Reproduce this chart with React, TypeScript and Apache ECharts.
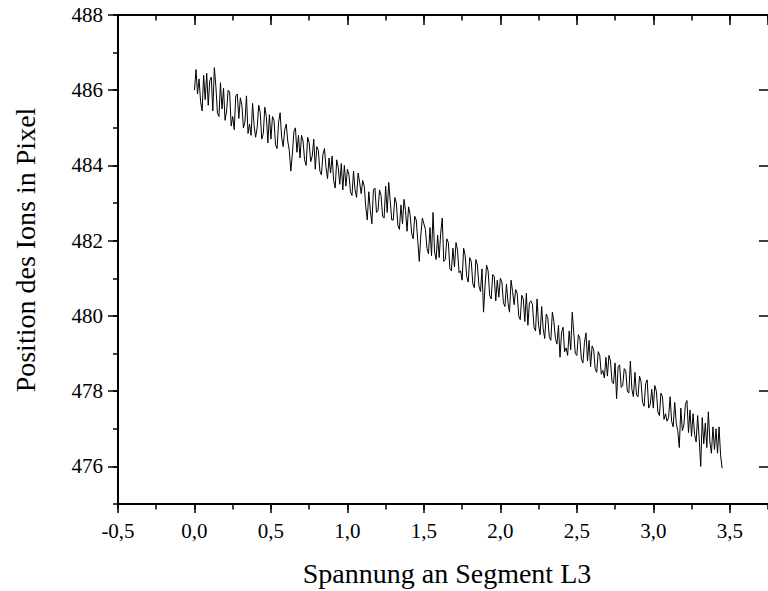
import React, { useEffect, useRef } from "react";
import * as echarts from "echarts";

// Spannung an Segment L3 sampled every 0.01 from 0,00 to 3,45
const voltageStep = 0.01;

// Position des Ions in Pixel
const ionPosition: number[] = [
  486.00, 486.55, 485.90, 486.30, 485.70, 485.45, 486.40, 485.75, 486.45, 485.60,
  486.25, 486.35, 485.45, 486.60, 486.10, 485.40, 485.30, 486.20, 485.50, 486.05,
  485.20, 485.45, 486.00, 485.95, 485.05, 485.30, 484.95, 485.85, 485.90, 485.25,
  485.80, 485.60, 485.00, 485.15, 485.85, 484.85, 485.10, 484.80, 485.65, 485.05,
  484.75, 485.00, 485.60, 485.40, 484.70, 484.85, 485.55, 485.30, 484.60, 485.35,
  484.70, 485.30, 485.20, 484.55, 484.45, 485.15, 485.40, 484.75, 484.50, 484.95,
  485.10, 484.65, 484.40, 483.85, 484.30, 484.90, 485.00, 484.35, 484.80, 484.20,
  484.80, 484.65, 484.15, 484.00, 484.75, 484.60, 484.10, 484.25, 484.70, 483.90,
  484.50, 484.40, 483.85, 483.75, 484.30, 484.45, 483.95, 483.65, 484.20, 483.80,
  484.25, 483.60, 483.40, 484.15, 483.95, 483.50, 484.05, 483.35, 484.00, 483.45,
  483.90, 483.75, 483.30, 483.20, 483.85, 483.35, 483.15, 483.80, 483.55, 483.25,
  483.60, 483.45, 482.90, 482.55, 483.30, 482.80, 482.45, 483.35, 483.40, 482.75,
  482.80, 483.35, 483.20, 482.65, 482.60, 483.45, 482.75, 483.55, 483.05, 482.55,
  482.55, 483.15, 483.00, 482.40, 482.30, 482.95, 482.45, 483.10, 482.80, 482.25,
  482.90, 482.70, 482.20, 482.05, 482.65, 482.55, 482.00, 481.45, 482.15, 482.60,
  482.45, 482.30, 481.80, 481.65, 482.35, 481.60, 482.75, 481.70, 481.50, 482.15,
  481.55, 482.20, 482.60, 481.45, 481.50, 482.05, 481.95, 481.25, 481.20, 481.80,
  481.30, 481.95, 481.75, 481.15, 481.20, 480.95, 481.80, 481.60, 481.05, 480.90,
  481.55, 481.45, 480.85, 480.75, 481.50, 481.35, 480.80, 480.65, 481.25, 480.10,
  480.80, 481.35, 481.20, 480.55, 480.45, 481.10, 481.05, 480.40, 480.95, 480.50,
  481.00, 480.90, 480.35, 480.25, 480.85, 480.35, 480.10, 480.95, 480.65, 480.30,
  480.70, 480.60, 480.00, 479.90, 480.55, 480.45, 479.85, 480.60, 479.75, 480.35,
  480.40, 480.30, 479.70, 479.60, 480.45, 479.75, 479.50, 480.25, 479.65, 479.40,
  480.05, 479.95, 479.45, 479.35, 480.10, 479.85, 479.40, 479.25, 479.75, 478.90,
  479.55, 479.70, 479.05, 479.15, 478.95, 479.60, 479.10, 480.10, 479.55, 479.00,
  478.95, 479.50, 479.40, 478.85, 478.75, 479.30, 479.55, 478.80, 479.35, 478.65,
  479.20, 479.10, 478.60, 478.50, 479.05, 478.95, 478.45, 478.55, 478.35, 478.90,
  478.40, 478.95, 478.80, 478.25, 478.20, 478.75, 477.80, 478.65, 478.70, 478.10,
  478.15, 478.60, 478.55, 478.00, 477.95, 478.80, 478.05, 477.85, 478.50, 477.90,
  477.85, 478.40, 478.25, 477.70, 477.60, 478.20, 478.30, 477.55, 477.65, 478.05,
  477.55, 478.15, 478.00, 477.45, 477.35, 477.95, 477.85, 477.25, 477.40, 477.20,
  477.30, 477.85, 477.20, 477.05, 477.70, 477.15, 476.95, 476.50, 477.55, 476.95,
  477.10, 477.65, 477.75, 476.90, 477.50, 476.80, 477.40, 476.85, 476.65, 477.35,
  476.75, 476.00, 477.30, 476.60, 477.15, 476.50, 477.45, 476.65, 476.35, 477.05,
  476.45, 477.00, 476.35, 477.05, 476.30, 475.95,
];

const xTitle = "Spannung an Segment L3";
const yTitle = "Position des Ions in Pixel";

const X_MIN = -0.5;
const X_MAX = 3.75;
const Y_MIN = 475;
const Y_MAX = 488;
const Y_LABEL_MIN = 476;

const FONT = "Liberation Serif";

export default function App() {
  const ref = useRef<HTMLDivElement>(null);

  useEffect(() => {
    if (!ref.current) return;
    const chart = echarts.init(ref.current, null, { renderer: "svg" });

    const data = ionPosition.map((v, i) => [+(i * voltageStep).toFixed(2), v]);

    const left = 118;
    const top = 15;
    const plotH = 489;
    const pxPerY = plotH / (Y_MAX - Y_MIN);
    const pxPerX = 618.75 / 4;
    const plotW = (X_MAX - X_MIN) * pxPerX;
    const labelGridH = (Y_MAX - Y_LABEL_MIN) * pxPerY;

    const black = "#000";
    const line = { show: true, onZero: false, lineStyle: { color: black, width: 2 } };
    const noLine = { show: false, onZero: false };

    chart.setOption({
      animation: false,
      backgroundColor: "#fff",
      textStyle: { fontFamily: FONT },
      grid: [
        { left, top, width: plotW, height: plotH, containLabel: false },
        { left, top, width: plotW, height: labelGridH, containLabel: false },
      ],
      xAxis: [
        {
          type: "value", gridIndex: 0, position: "bottom",
          min: X_MIN, max: X_MAX, interval: 0.5,
          axisLine: line,
          axisTick: { show: true, inside: false, length: 9, lineStyle: { color: black, width: 1.5 } },
          axisLabel: {
            show: true, margin: 16, color: black, fontFamily: FONT, fontSize: 21,
            showMaxLabel: false,
            formatter: (v: number) => v.toFixed(1).replace(".", ","),
          },
          splitLine: { show: false },
        },
        {
          type: "value", gridIndex: 0, position: "bottom",
          min: X_MIN, max: X_MAX, interval: 0.25,
          axisLine: noLine,
          axisTick: { show: true, inside: false, length: 5.5, lineStyle: { color: black, width: 1.5 } },
          axisLabel: { show: false },
          splitLine: { show: false },
        },
        {
          type: "value", gridIndex: 0, position: "top",
          min: X_MIN, max: X_MAX, interval: 0.5,
          axisLine: line,
          axisTick: { show: true, inside: true, length: 10, lineStyle: { color: black, width: 1.5 } },
          axisLabel: { show: false },
          splitLine: { show: false },
        },
        {
          type: "value", gridIndex: 0, position: "top",
          min: X_MIN, max: X_MAX, interval: 0.25,
          axisLine: noLine,
          axisTick: { show: true, inside: true, length: 5.5, lineStyle: { color: black, width: 1.5 } },
          axisLabel: { show: false },
          splitLine: { show: false },
        },
        {
          type: "value", gridIndex: 1, position: "bottom", show: false,
          min: X_MIN, max: X_MAX,
        },
      ],
      yAxis: [
        {
          type: "value", gridIndex: 0, position: "left",
          min: Y_MIN, max: Y_MAX, interval: 1,
          axisLine: line,
          axisTick: { show: true, inside: false, length: 5, lineStyle: { color: black, width: 1.5 } },
          axisLabel: { show: false },
          splitLine: { show: false },
        },
        {
          type: "value", gridIndex: 1, position: "left",
          min: Y_LABEL_MIN, max: Y_MAX, interval: 2,
          axisLine: noLine,
          axisTick: { show: true, inside: false, length: 10, lineStyle: { color: black, width: 1.5 } },
          axisLabel: { show: true, margin: 15, color: black, fontFamily: FONT, fontSize: 21 },
          splitLine: { show: false },
        },
        {
          type: "value", gridIndex: 1, position: "right",
          min: Y_LABEL_MIN, max: Y_MAX, interval: 2,
          axisLine: noLine,
          axisTick: { show: true, inside: true, length: 9, lineStyle: { color: black, width: 1.5 } },
          axisLabel: { show: false },
          splitLine: { show: false },
        },
      ],
      series: [
        {
          type: "line",
          xAxisIndex: 0,
          yAxisIndex: 0,
          data,
          showSymbol: false,
          symbol: "none",
          lineStyle: { color: black, width: 1 },
          silent: true,
        },
      ],
      graphic: [
        {
          type: "text",
          x: 447,
          y: 573,
          style: {
            text: xTitle, fill: black, fontFamily: FONT, fontSize: 28,
            align: "center", verticalAlign: "middle",
          },
        },
        {
          type: "text",
          x: 25,
          y: 250,
          rotation: Math.PI / 2,
          style: {
            text: yTitle, fill: black, fontFamily: FONT, fontSize: 28,
            align: "center", verticalAlign: "middle",
          },
        },
      ],
    });

    return () => chart.dispose();
  }, []);

  return (
    <div
      ref={ref}
      style={{ position: "fixed", left: 0, top: 0, width: 768, height: 591, background: "#fff" }}
    />
  );
}
